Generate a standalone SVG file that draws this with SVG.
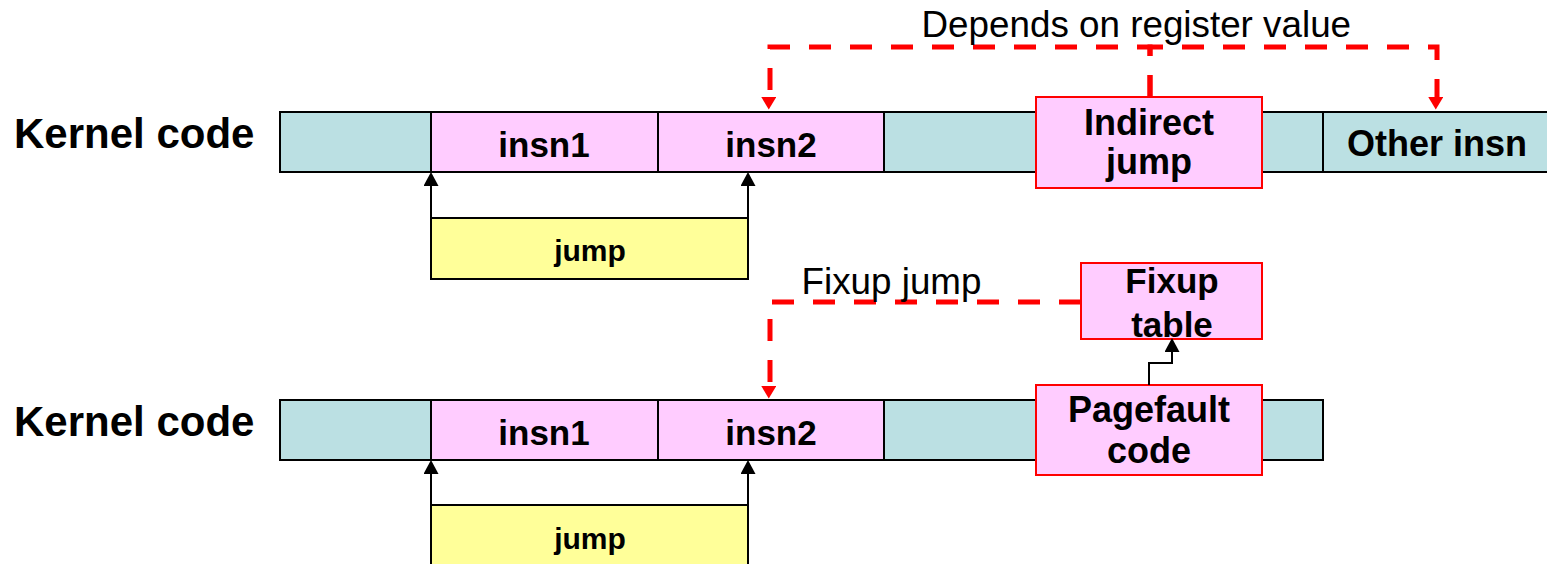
<svg xmlns="http://www.w3.org/2000/svg" width="1547" height="564" viewBox="0 0 1547 564">
  <style>
    .teal { fill: #BBE0E3; stroke: #000; stroke-width: 2; }
    .pink { fill: #FFCCFF; stroke: #000; stroke-width: 2; }
    .hot { fill: #FFCCFF; stroke: #FF0000; stroke-width: 2; }
    .yellow { fill: #FFFF99; stroke: #000; stroke-width: 2; }
    .lbl { font-family: "Liberation Sans", Arial, sans-serif; font-weight: bold; fill: #000; text-anchor: middle; }
    .big { font-family: "Liberation Sans", Arial, sans-serif; font-weight: bold; font-size: 42px; fill: #000; }
    .note { font-family: "Liberation Sans", Arial, sans-serif; font-size: 36.8px; fill: #000; }
    .dash { fill: none; stroke: #FF0000; stroke-width: 5; stroke-dasharray: 22 19; }
    .link { fill: none; stroke: #000; stroke-width: 2; }
  </style>
  <defs>
    <marker id="redHead" markerUnits="userSpaceOnUse" markerWidth="18" markerHeight="15" refX="0" refY="7.5" orient="auto" viewBox="0 0 15 18">
      <path d="M0,0 L15,9 L0,18 Z" fill="#FF0000"/>
    </marker>
    <marker id="blackHead" markerUnits="userSpaceOnUse" markerWidth="14" markerHeight="15" refX="0" refY="7.5" orient="auto" viewBox="0 0 14 15">
      <path d="M0,0 L14,7.5 L0,15 Z" fill="#000"/>
    </marker>
  </defs>

  <!-- upper strip of kernel code -->
  <g id="label-kernel-top"><text class="big" x="14" y="148">Kernel code</text></g>
  <g id="top-pad-left"><rect class="teal" x="280" y="112" width="151" height="60"/></g>
  <g id="top-insn1"><rect class="pink" x="431" y="112" width="227" height="60"/><text class="lbl" x="544" y="157" font-size="35">insn1</text></g>
  <g id="top-insn2"><rect class="pink" x="658" y="112" width="226" height="60"/><text class="lbl" x="771" y="157" font-size="35">insn2</text></g>
  <g id="top-pad-mid"><rect class="teal" x="884" y="112" width="439" height="60"/></g>
  <g id="top-other"><rect class="teal" x="1323" y="112" width="230" height="60"/><text class="lbl" x="1437" y="156" font-size="36">Other insn</text></g>
  <g id="top-indirect"><rect class="hot" x="1036" y="97" width="226" height="91"/><text class="lbl" x="1149" y="135" font-size="36">Indirect</text><text class="lbl" x="1149" y="174" font-size="36">jump</text></g>
  <g id="top-jump"><rect class="yellow" x="431" y="218" width="317" height="61"/><text class="lbl" x="590" y="261" font-size="30">jump</text></g>

  <!-- lower strip of kernel code -->
  <g id="label-kernel-bottom"><text class="big" x="14" y="436">Kernel code</text></g>
  <g id="bot-pad-left"><rect class="teal" x="280" y="400" width="151" height="60"/></g>
  <g id="bot-insn1"><rect class="pink" x="431" y="400" width="227" height="60"/><text class="lbl" x="544" y="445" font-size="35">insn1</text></g>
  <g id="bot-insn2"><rect class="pink" x="658" y="400" width="226" height="60"/><text class="lbl" x="771" y="445" font-size="35">insn2</text></g>
  <g id="bot-pad-right"><rect class="teal" x="884" y="400" width="439" height="60"/></g>
  <g id="bot-pagefault"><rect class="hot" x="1036" y="385" width="226" height="90"/><text class="lbl" x="1149" y="422" font-size="36">Pagefault</text><text class="lbl" x="1149" y="463" font-size="36">code</text></g>
  <g id="bot-fixup-table"><rect class="hot" x="1081" y="263" width="181" height="76"/><text class="lbl" x="1172" y="293" font-size="35">Fixup</text><text class="lbl" x="1172" y="337" font-size="35">table</text></g>
  <g id="bot-jump"><rect class="yellow" x="431" y="505" width="317" height="70"/><text class="lbl" x="590" y="549" font-size="30">jump</text></g>

  <!-- connectors -->
  <g id="connectors">
    <path class="dash" d="M1150,97 V47 H770 V97" marker-end="url(#redHead)"/>
    <path class="dash" d="M1150,97 V47 H1437 V97" marker-end="url(#redHead)"/>
    <path class="dash" d="M1081,302 H770 V386" marker-end="url(#redHead)"/>
    <path class="link" d="M431,218 V186" marker-end="url(#blackHead)"/>
    <path class="link" d="M748,218 V186" marker-end="url(#blackHead)"/>
    <path class="link" d="M431,505 V474" marker-end="url(#blackHead)"/>
    <path class="link" d="M748,505 V474" marker-end="url(#blackHead)"/>
    <path class="link" d="M1149,385 V363 H1172 V352" marker-end="url(#blackHead)"/>
    <text class="note" x="921.5" y="37">Depends on register value</text>
    <text class="note" x="801.5" y="294">Fixup jump</text>
  </g>
</svg>
